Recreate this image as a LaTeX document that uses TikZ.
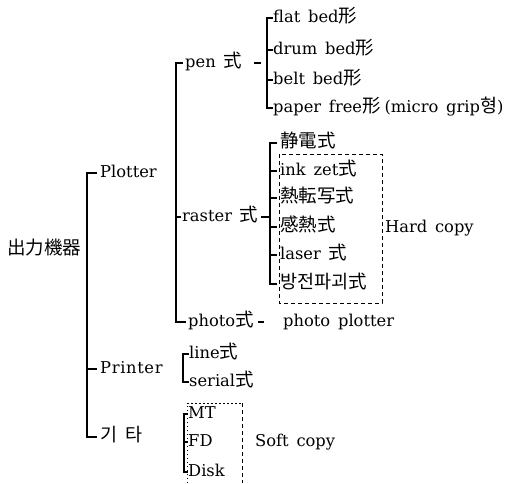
\documentclass[tikz,border=0pt]{standalone}
\usepackage{fontspec}
\setmainfont{DejaVu Serif}[WordSpace=1.5]
\newfontfamily\cjkfnt{Noto Sans CJK JP}
\newcommand{\cjt}[1]{{\fontsize{18.5}{20}\cjkfnt #1}}
\begin{document}
\begin{tikzpicture}[x=1pt,y=-1pt,
  txt/.style={anchor=west,inner sep=0pt,text height=12pt,text depth=3pt,font=\fontsize{16.3}{20}\selectfont},
  ln/.style={line width=1.1pt,line cap=butt},
  box/.style={line width=1pt,dashed,dash pattern=on 4pt off 3pt}]
\useasboundingbox (0,0) rectangle (525,483);
% text nodes
\node[txt] (root) at (7,250) {\cjt{出力機器}};
\node[txt] (plotter) at (100,173) {Plotter};
\node[txt] (printer) at (100,369) {\addfontfeature{LetterSpace=4}Printer};
\node[txt] (kita) at (100,437) {\cjt{기\hspace{8pt}타}};
\node[txt] (pen) at (185,63) {pen \cjt{式}};
\node[txt] (raster) at (182,217) {raster \cjt{式}};
\node[txt] (photo) at (188,322) {photo\cjt{式}};
\node[txt] (pp) at (283,322) {photo plotter};
\node[txt] (flat) at (273,18) {flat bed\cjt{形}};
\node[txt] (drum) at (273,50) {drum bed\cjt{形}};
\node[txt] (belt) at (273,80) {belt bed\cjt{形}};
\node[txt] (paper) at (273,108) {paper free\cjt{形}\hspace{4pt}(micro grip\cjt{형})};
\node[txt] (seiden) at (280,143) {\cjt{静電式}};
\node[txt] (ink) at (280,171) {ink zet\cjt{式}};
\node[txt] (netsu) at (280,198) {\cjt{熱転写式}};
\node[txt] (kan) at (280,227) {\cjt{感熱式}};
\node[txt] (laser) at (280,255) {laser \cjt{式}};
\node[txt] (houden) at (280,284) {\cjt{방전파괴式}};
\node[txt] (hard) at (385,228) {Hard copy};
\node[txt] (line) at (189,354) {line\cjt{式}};
\node[txt] (serial) at (189,382) {serial\cjt{式}};
\node[txt] (mt) at (188,414) {MT};
\node[txt] (fd) at (188,442) {FD};
\node[txt] (disk) at (188,472) {Disk};
\node[txt] (soft) at (255,442) {Soft copy};
% bracket x positions
\coordinate (mb) at (87,0);
\coordinate (plb) at (176,0);
\coordinate (pb) at (267,0);
\coordinate (rb) at (270,0);
\coordinate (prb) at (183,0);
\coordinate (kb) at (184,0);
% main bracket
\draw[ln] ([xshift=-3pt]plotter.west) -- (plotter.west -| mb) -- (kita.west -| mb) -- ([xshift=-3pt]kita.west);
\draw[ln] (printer.west -| mb) -- ([xshift=-3pt]printer.west);
% plotter bracket
\draw[ln] ([xshift=-2pt]pen.west) -- (pen.west -| plb) -- (photo.west -| plb) -- ([xshift=-2pt]photo.west);
\draw[ln] (raster.west -| plb) -- ([xshift=-1pt]raster.west);
% pen bracket
\draw[ln] (flat.west) -- (flat.west -| pb) -- (paper.west -| pb) -- (paper.west);
\foreach \n in {drum,belt} \draw[ln] (\n.west -| pb) -- (\n.west);
\draw[ln] ([xshift=-13pt]pen.east -| pb) -- ([xshift=-6pt]pen.east -| pb);
% raster bracket
\draw[ln] ([xshift=-3pt]seiden.west) -- (seiden.west -| rb) -- (houden.west -| rb) -- ([xshift=-3pt]houden.west);
\foreach \n in {ink,netsu,kan,laser} \draw[ln] (\n.west -| rb) -- ([xshift=-3pt]\n.west);
\draw[ln] ([xshift=2pt]raster.east) -- (raster.east -| rb);
% photo dash
\draw[ln] ([xshift=4pt]photo.east) -- ([xshift=10pt]photo.east);
% printer bracket
\draw[ln] (line.west) -- (line.west -| prb) -- (serial.west -| prb) -- (serial.west);
% other bracket
\draw[ln] (mt.west) -- (mt.west -| kb) -- (disk.west -| kb) -- (disk.west);
\draw[ln] (fd.west -| kb) -- (fd.west);
% hard copy box
\draw[box] (279,154) rectangle (382,303);
% soft copy box
\draw[box,dash pattern=on 1.5pt off 2.5pt] (187,483) -- (187,403) -- (242,403);
\draw[box] (242,403) -- (242,483);
\end{tikzpicture}
\end{document}
